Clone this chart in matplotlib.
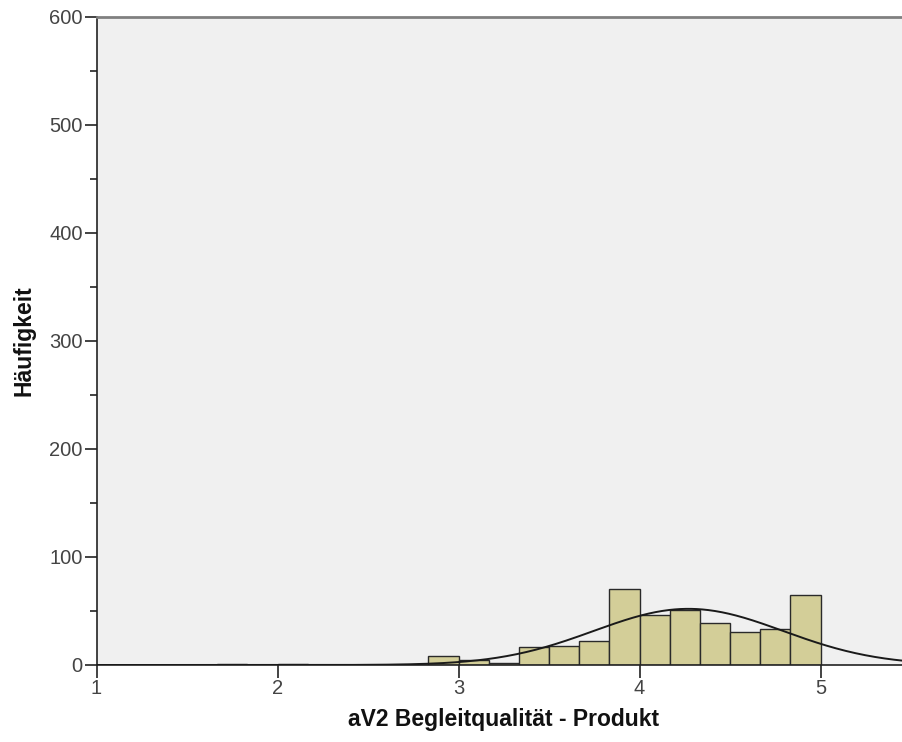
import numpy as np
import matplotlib
matplotlib.use("Agg")
import matplotlib.pyplot as plt

# Histogram bins (bin width 1/6) and counts
bin_left = [1 + 4/6, 2.0, 2 + 5/6, 3.0, 3 + 1/6, 3 + 2/6, 3.5, 3 + 4/6, 3 + 5/6,
            4.0, 4 + 1/6, 4 + 2/6, 4.5, 4 + 4/6, 4 + 5/6]
counts = [1, 1, 8, 5, 2, 17, 18, 22, 70, 46, 51, 39, 31, 33, 65]
bin_width = 1 / 6

# Normal curve parameters (fitted curve shown on chart)
curve_mean = 4.27
curve_sd = 0.523
n_total = sum(counts)

x_ticks = [1, 2, 3, 4, 5]
y_ticks = [0, 100, 200, 300, 400, 500, 600]
x_label = "aV2 Begleitqualität - Produkt"
y_label = "Häufigkeit"

plt.rcParams['font.family'] = ['Liberation Sans', 'DejaVu Sans']

fig = plt.figure(figsize=(9.02, 7.42), dpi=100)
ax = fig.add_axes([96.5 / 902, 1 - 665 / 742, 1 - 96.5 / 902 + 0.01, (665 - 17) / 742])
ax.set_facecolor('#f0f0f0')

ax.bar(bin_left, counts, width=bin_width, align='edge', color='#d3ce98',
       edgecolor='#2a2a2a', linewidth=1.0, zorder=2)

xs = np.linspace(1, 5.6, 600)
ys = n_total * bin_width * np.exp(-0.5 * ((xs - curve_mean) / curve_sd) ** 2) / (curve_sd * np.sqrt(2 * np.pi))
ax.plot(xs, ys, color='#1a1a1a', linewidth=1.4, zorder=3)

ax.set_xlim(1, 5.5)
ax.set_ylim(0, 600)
ax.set_xticks(x_ticks)
ax.set_yticks(y_ticks)
ax.set_yticks(np.arange(50, 600, 100), minor=True)

ax.spines['right'].set_visible(False)
ax.spines['top'].set_color('#808080')
ax.spines['top'].set_linewidth(2)
ax.spines['left'].set_color('#222222')
ax.spines['bottom'].set_color('#222222')
ax.spines['left'].set_linewidth(1.2)
ax.spines['bottom'].set_linewidth(1.2)

ax.tick_params(axis='both', which='major', length=9, width=1.2, color='#222222',
               labelsize=14.5, labelcolor='#444444', pad=1)
ax.tick_params(axis='y', which='minor', length=5, width=1.2, color='#222222')

ax.set_xlabel(x_label, fontsize=16.5, fontweight='bold', color='#111111', labelpad=7)
ax.set_ylabel(y_label, fontsize=16.5, fontweight='bold', color='#111111', labelpad=10)

fig.savefig('out.png', dpi=100)
